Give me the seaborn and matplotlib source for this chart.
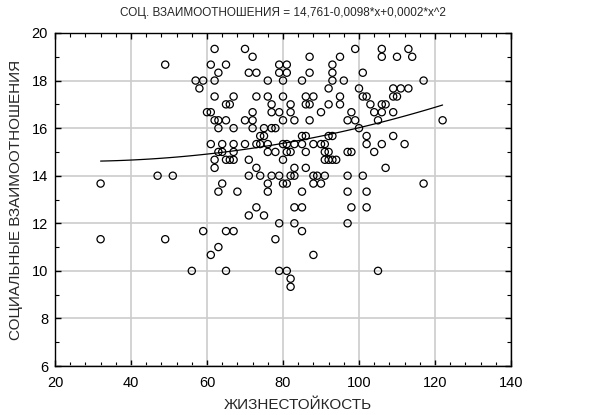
import matplotlib
matplotlib.use("Agg")
import matplotlib.pyplot as plt
from matplotlib.ticker import MultipleLocator
import numpy as np
import pandas as pd
import seaborn as sns

# Hardiness score (x) and social relations score (y) for each respondent
hardiness = [
    62, 70, 99, 106, 113,
    72, 87, 95, 106, 110, 114,
    49, 61, 65, 79, 81, 93,
    63, 71, 73, 79, 81, 87, 93, 101,
    57, 59, 62, 76, 80, 85, 93, 96, 117,
    58, 92, 100, 109, 111, 113,
    62, 67, 73, 76, 80, 86, 88, 95, 101, 102, 109, 110,
    65, 66, 77, 82, 86, 87, 92, 95, 103, 106, 107,
    60, 61, 72, 77, 79, 82, 90, 98, 104, 106, 109,
    62, 63, 65, 70, 72, 80, 83, 87, 97, 99, 105, 122,
    63, 67, 72, 75, 77, 78, 100,
    74, 75, 85, 86, 92, 93, 102, 109,
    61, 64, 67, 70, 73, 74, 76, 80, 81, 83, 85, 88, 90, 91, 102, 106, 112,
    63, 64, 67, 76, 78, 81, 82, 86, 91, 92, 97, 98, 104,
    62, 65, 66, 67, 71, 80, 91, 92, 93, 94,
    62, 73, 83, 86, 107,
    47, 51, 71, 74, 77, 79, 82, 83, 88, 89, 91, 97, 101,
    32, 64, 76, 80, 81, 88, 90, 117,
    63, 68, 76, 85, 97, 102,
    73, 83, 85, 98, 102,
    71, 75,
    79, 83, 97,
    59, 65, 67, 85,
    32, 49, 78,
    63,
    61, 88,
    56, 65, 79, 81, 105,
    82,
    82,
]

relations = (
    [19.33] * 5 + [19.0] * 6 + [18.67] * 6 + [18.33] * 8 + [18.0] * 9
    + [17.67] * 6 + [17.33] * 12 + [17.0] * 11 + [16.67] * 11 + [16.33] * 12
    + [16.0] * 7 + [15.67] * 8 + [15.33] * 17 + [15.0] * 13 + [14.67] * 10
    + [14.33] * 5 + [14.0] * 13 + [13.67] * 8 + [13.33] * 6 + [12.67] * 5
    + [12.33] * 2 + [12.0] * 3 + [11.67] * 4 + [11.33] * 3 + [11.0] * 1
    + [10.67] * 2 + [10.0] * 5 + [9.67] * 1 + [9.33] * 1
)

x_ticks = [20, 40, 60, 80, 100, 120, 140]
y_ticks = [6, 8, 10, 12, 14, 16, 18, 20]

title = "СОЦ. ВЗАИМООТНОШЕНИЯ = 14,761-0,0098*x+0,0002*x^2"
x_label = "ЖИЗНЕСТОЙКОСТЬ"
y_label = "СОЦИАЛЬНЫЕ ВЗАИМООТНОШЕНИЯ"

df = pd.DataFrame({"x": hardiness, "y": relations})

sns.set_theme(style="white")
plt.rcParams["font.family"] = ["Liberation Sans", "DejaVu Sans"]

fig = plt.figure(figsize=(5.96, 4.15), dpi=100)
ax = fig.add_axes([55 / 596, 1 - 366 / 415, (511 - 55) / 596, (366 - 33) / 415])

ax.grid(True, which="major", color="#cccccc", linewidth=1.2, zorder=0)
ax.set_axisbelow(True)

sns.scatterplot(data=df, x="x", y="y", ax=ax, marker="o", s=27,
                facecolor="none", edgecolor="black", linewidth=0.9, zorder=3)
sns.regplot(data=df, x="x", y="y", ax=ax, order=2, ci=None, scatter=False,
            truncate=True, line_kws={"color": "black", "linewidth": 0.9, "zorder": 4})

ax.set_xlim(20, 140)
ax.set_ylim(6, 20)
ax.set_xticks(x_ticks)
ax.set_yticks(y_ticks)
ax.xaxis.set_minor_locator(MultipleLocator(4))
ax.yaxis.set_minor_locator(MultipleLocator(1))
ax.tick_params(which="both", direction="in", top=True, right=True,
               bottom=True, left=True, colors="black", labelsize=10.5)
ax.tick_params(which="major", length=4, width=1)
ax.tick_params(which="minor", length=3, width=0.8)
ax.tick_params(axis="x", which="major", pad=7)
ax.tick_params(axis="y", which="major", pad=5)
for s in ax.spines.values():
    s.set_color("black")
    s.set_linewidth(1.0)

ax.set_title(title, fontsize=8.5, pad=12)
ax.set_xlabel(x_label, fontsize=11)
ax.xaxis.set_label_coords((298 - 55) / 456, -0.095)
ax.set_ylabel(y_label, fontsize=11, labelpad=6)

fig.savefig("out.png", dpi=100)
